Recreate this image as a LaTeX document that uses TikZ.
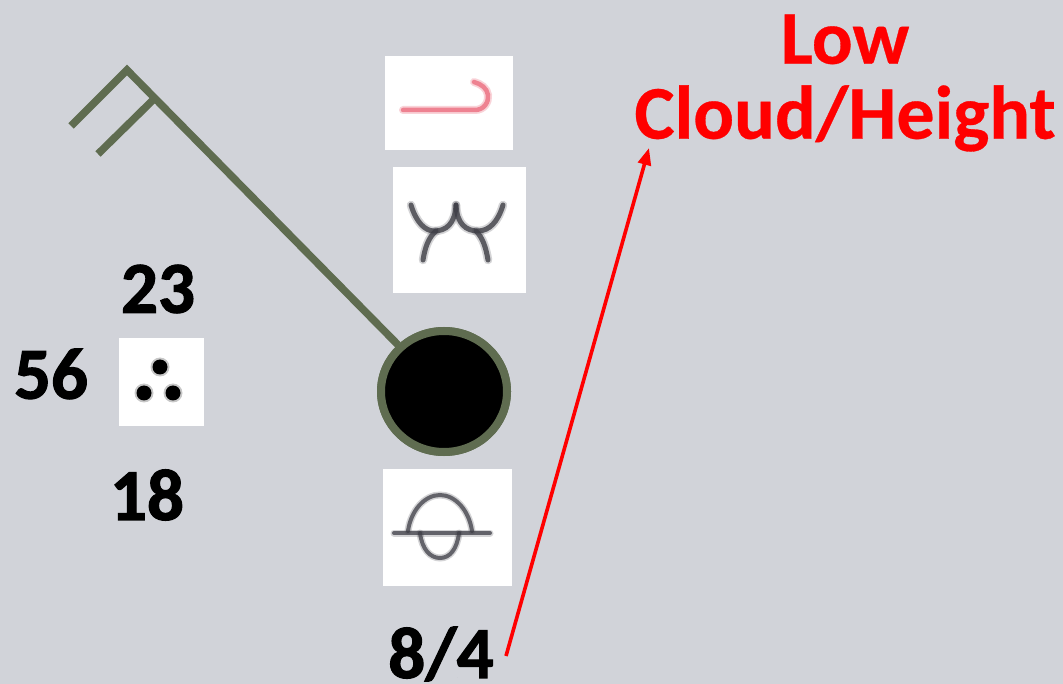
\documentclass[tikz,border=0pt]{standalone}
\usepackage{fontspec}
\setmainfont[BoldFeatures={FakeBold=1.6}]{Carlito}
\newfontfamily\redfont[BoldFeatures={FakeBold=0.4}]{Carlito}
\usetikzlibrary{arrows.meta,shapes.geometric}
\definecolor{bgc}{RGB}{209,211,217}
\definecolor{barb}{RGB}{95,108,80}
\definecolor{symgray}{RGB}{62,62,70}
\definecolor{sympink}{RGB}{236,110,128}
\tikzset{
  px/.style={x=1pt,y=-1pt},
  numlabel/.style={font=\fontsize{73}{73}\selectfont\bfseries,text=black,inner sep=0pt},
  redlabel/.style={font=\redfont\fontsize{76}{79}\selectfont\bfseries,text=red,inner sep=0pt,align=center},
  symbox/.style={fill=white,draw=none},
  barbline/.style={draw=barb,line width=7.5pt,line cap=butt,line join=miter},
  symline/.style={draw=symgray,line width=5pt,line cap=round,opacity=.8,preaction={draw=symgray,line width=8.5pt,line cap=round,opacity=.22}},
  symthin/.style={draw=symgray,line width=4pt,line cap=round,opacity=.75,preaction={draw=symgray,line width=7pt,line cap=round,opacity=.22}},
  pinkline/.style={draw=sympink,line width=4.5pt,line cap=round,opacity=.8,preaction={draw=sympink,line width=8pt,line cap=round,opacity=.3}},
  station/.style={ellipse,fill=black,draw=barb,line width=8pt,minimum width=126pt,minimum height=121pt,inner sep=0pt},
  redarrow/.style={draw=red,line width=3.6pt,-{Triangle[length=17pt,width=13pt]}},
  dotcore/.style={fill=black},
  dothalo/.style={fill=black,opacity=.22},
}
\begin{document}
\begin{tikzpicture}[px]
\useasboundingbox (0,0) rectangle (1063,684);
\fill[bgc] (0,0) rectangle (1063,684);
% white symbol panels
\fill[symbox] (385,56) rectangle (513,150);
\fill[symbox] (393,167) rectangle (526,293);
\fill[symbox] (383,469) rectangle (512,586);
\fill[symbox] (119,338) rectangle (204,426);
% high cloud symbol
\draw[pinkline] (403,110) -- (475,110) .. controls (484,110) and (489,102) .. (488,95) .. controls (487,88) and (481,84) .. (474,82);
% mid cloud symbol
\draw[symline] (411,205) .. controls (416,222) and (425,231) .. (434,231) .. controls (446,231) and (455,224) .. (456,205);
\draw[symline] (503,205) .. controls (498,222) and (489,231) .. (478,231) .. controls (466,231) and (457,224) .. (456,205);
\draw[symline] (423,260) .. controls (425,248) and (428,238) .. (436,231);
\draw[symline] (488,260) .. controls (486,248) and (483,238) .. (476,231);
% low cloud symbol
\draw[symthin] (394,533) -- (490,533);
\draw[symthin] (408,531) .. controls (411,510) and (425,495) .. (440,495) .. controls (455,495) and (469,510) .. (472,531);
\draw[symthin] (420,533) .. controls (422,549) and (430,558) .. (440,558) .. controls (450,558) and (457,549) .. (459,533);
% present weather dots
\fill[dothalo] (160,367) circle (9.5pt);
\fill[dothalo] (144,393) circle (9.5pt);
\fill[dothalo] (173,393) circle (9.5pt);
\fill[dotcore] (160,367) circle (7.5pt);
\fill[dotcore] (144,393) circle (7.5pt);
\fill[dotcore] (173,393) circle (7.5pt);
% wind barb
\node[station] (stn) at (444,391.5) {};
\coordinate (tip) at (127,70);
\coordinate (b1) at (155,98);
\coordinate (f1) at (71,126);
\coordinate (f2) at (98,154);
\draw[barbline] (stn) -- (tip) -- (f1);
\draw[barbline] (b1) -- (f2);
\node[station] at (stn) {};
% labels
\node[numlabel] (n23) at (158,289) {23};
\node[numlabel] (n56) at (51,374) {56};
\node[numlabel] (n18) at (147,495) {18};
\node[numlabel] (n84) at (441,654) {8/4};
\node[redlabel] (low) at (845,83) {Low\\[-4pt]Cloud/Height};
\coordinate (arrowstart) at (506,656);
\coordinate (arrowend) at (649,148);
\draw[redarrow] (arrowstart) -- (arrowend);
\end{tikzpicture}
\end{document}
